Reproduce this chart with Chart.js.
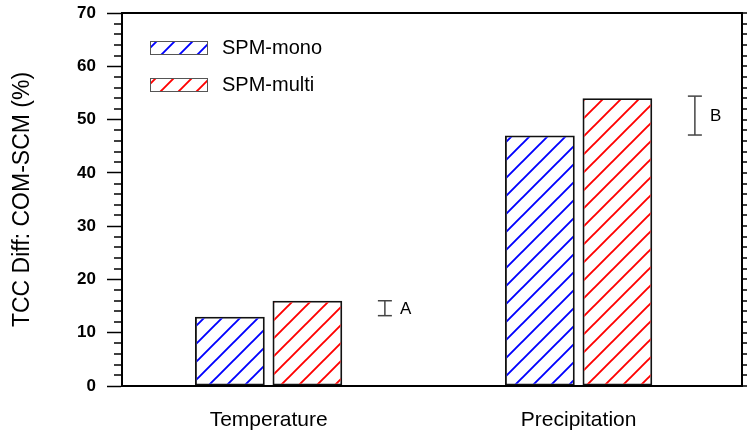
<!DOCTYPE html>
<html>
<head>
<meta charset="utf-8">
<script src="https://cdn.jsdelivr.net/npm/chart.js@4.4.1/dist/chart.umd.min.js"></script>
<style>
  html, body { margin: 0; padding: 0; background: #fff; }
  #wrap { width: 747px; height: 437px; }
</style>
</head>
<body>
<div id="wrap"><canvas id="barChart"></canvas></div>
<script>
// values
var categories = ['Temperature', 'Precipitation'];
var categoryX = [1, 2];
var monoValues = [13, 47];
var multiValues = [16, 54];
var seriesNames = ['SPM-mono', 'SPM-multi'];
var seriesColors = ['#0000ff', '#ff0000'];
var errX = [1.375, 2.375];
var errLow = [13.2, 47.1];
var errHigh = [16.0, 54.4];
var errLabels = ['A', 'B'];
var yTicks = [0, 10, 20, 30, 40, 50, 60, 70];

var FONT = "'Liberation Sans', Arial, Helvetica, sans-serif";

function makeHatch(color) {
    var s = 18;
    var c = document.createElement('canvas');
    c.width = s; c.height = s;
    var g = c.getContext('2d');
    g.strokeStyle = color;
    g.lineWidth = 1.9;
    g.beginPath();
    g.moveTo(-2, s + 2); g.lineTo(s + 2, -2);
    g.moveTo(-2, 2); g.lineTo(2, -2);
    g.moveTo(s - 2, s + 2); g.lineTo(s + 2, s - 2);
    g.stroke();
    return document.getElementById('barChart').getContext('2d').createPattern(c, 'repeat');
}

var hatches = seriesColors.map(makeHatch);

function points(xs, ys) {
    return xs.map(function (x, i) { return { x: x, y: ys[i] }; });
}

var datasets = [
    {
        label: seriesNames[0],
        data: points(categoryX, monoValues),
        backgroundColor: hatches[0],
        borderColor: '#111',
        borderWidth: 1.8,
        borderSkipped: false,
        barPercentage: 0.9,
        categoryPercentage: 0.5
    },
    {
        label: seriesNames[1],
        data: points(categoryX, multiValues),
        backgroundColor: hatches[1],
        borderColor: '#111',
        borderWidth: 1.8,
        borderSkipped: false,
        barPercentage: 0.9,
        categoryPercentage: 0.5
    }
];

// error bars as small line datasets, caps from the 'line' point style
errX.forEach(function (x, i) {
    datasets.push({
        type: 'line',
        label: errLabels[i],
        data: [{ x: x, y: errLow[i] }, { x: x, y: errHigh[i] }],
        borderColor: '#444',
        borderWidth: 1.5,
        pointStyle: 'line',
        pointRadius: 7,
        pointBorderColor: '#444',
        pointBorderWidth: 1.5,
        fill: false
    });
});

var framePlugin = {
    id: 'frame',
    afterDraw: function (chart) {
        var ctx = chart.ctx;
        var a = chart.chartArea;
        var ys = chart.scales.y;
        var xs = chart.scales.x;
        ctx.save();
        // minor ticks left, all ticks right
        ctx.strokeStyle = '#000';
        ctx.lineWidth = 1.5;
        for (var v = 0; v <= 70; v += 2) {
            var py = Math.round(ys.getPixelForValue(v));
            ctx.beginPath();
            if (v % 10 !== 0) {
                ctx.moveTo(a.left - 8, py); ctx.lineTo(a.left, py);
            }
            ctx.moveTo(a.right, py); ctx.lineTo(a.right + 15, py);
            ctx.stroke();
        }
        ctx.lineWidth = 2;
        ctx.strokeRect(a.left, a.top, a.right - a.left, a.bottom - a.top);

        // legend inside the plot
        ctx.font = '20px ' + FONT;
        ctx.textBaseline = 'middle';
        ctx.textAlign = 'left';
        seriesNames.forEach(function (name, i) {
            var bx = a.left + 28, by = a.top + 28 + i * 37;
            ctx.fillStyle = hatches[i];
            ctx.fillRect(bx, by, 57, 13);
            ctx.strokeStyle = '#555';
            ctx.lineWidth = 1;
            ctx.strokeRect(bx + 0.5, by + 0.5, 57, 13);
            ctx.fillStyle = '#000';
            ctx.fillText(name, bx + 72, by + 7);
        });

        // error bar letters
        ctx.font = '17px ' + FONT;
        errLabels.forEach(function (t, i) {
            ctx.fillText(t, xs.getPixelForValue(errX[i]) + 15,
                ys.getPixelForValue((errLow[i] + errHigh[i]) / 2) + 1);
        });
        ctx.restore();
    }
};

new Chart(document.getElementById('barChart').getContext('2d'), {
    type: 'bar',
    data: { datasets: datasets },
    options: {
        responsive: true,
        maintainAspectRatio: false,
        animation: false,
        layout: {
            autoPadding: false,
            padding: { top: 13, right: 5, left: 0, bottom: 0 }
        },
        plugins: {
            legend: { display: false },
            tooltip: { enabled: false }
        },
        scales: {
            x: {
                type: 'linear',
                min: 0.527,
                max: 2.527,
                offset: false,
                afterBuildTicks: function (s) {
                    s.ticks = categoryX.map(function (v) { return { value: v }; });
                },
                afterFit: function (s) {
                    s.height = 51;
                    s.paddingLeft = 0; s.paddingRight = 0;
                },
                grid: { display: false, drawTicks: false },
                border: { display: false },
                ticks: {
                    padding: 22,
                    maxRotation: 0,
                    color: '#000',
                    font: { family: FONT, size: 21 },
                    callback: function (v) {
                        var i = categoryX.indexOf(v);
                        return i >= 0 ? categories[i] : '';
                    }
                }
            },
            y: {
                min: 0,
                max: 70,
                afterBuildTicks: function (s) {
                    s.ticks = yTicks.map(function (v) { return { value: v }; });
                },
                afterFit: function (s) {
                    s.width = 122;
                    s.paddingTop = 0; s.paddingBottom = 0;
                },
                grid: {
                    drawOnChartArea: false,
                    tickLength: 15,
                    tickWidth: 1.5,
                    tickColor: '#000'
                },
                border: { display: true, color: '#000', width: 2 },
                ticks: {
                    padding: 11,
                    color: '#000',
                    font: { family: FONT, size: 17, weight: 'bold' }
                },
                title: {
                    display: true,
                    text: 'TCC Diff: COM-SCM (%)',
                    color: '#000',
                    font: { family: FONT, size: 23 },
                    padding: { top: 9, bottom: 0 }
                }
            }
        }
    },
    plugins: [framePlugin]
});
</script>
</body>
</html>
